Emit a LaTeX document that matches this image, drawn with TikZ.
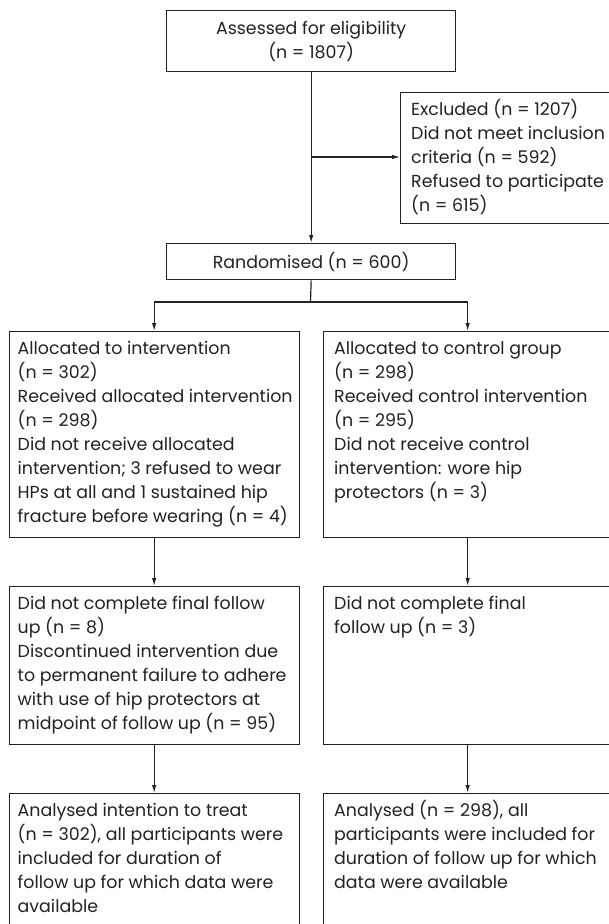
\documentclass[tikz,border=0pt]{standalone}
\usepackage{fontspec}
\setmainfont{Poppins}
\usetikzlibrary{arrows.meta}
\definecolor{lc}{HTML}{222222}
\newcommand\fs{\fontsize{17.4}{24}\selectfont}
\newcommand\fl{\rule{0pt}{17pt}}
\begin{document}
\begin{tikzpicture}[x=1pt,y=-1pt,
  box/.style={draw=lc, line width=1.3pt, inner sep=0, anchor=north west, text=lc},
  txt/.style={inner sep=0, anchor=north west, align=left, font=\fs, text=lc},
  ln/.style={draw=lc, line width=1.2pt},
  arr/.style={ln, -{Latex[length=8pt,width=4.5pt]}}]
\fill[white] (0,0) rectangle (609,924);
\clip (0,0) rectangle (609,924);
\node[box, minimum width=289pt, minimum height=61pt, align=center, font=\fs] (top) at (166,10) {Assessed for eligibility\\(n = 1807)};
\node[box, minimum width=222pt, minimum height=131pt] (excl) at (400,92) {};
\node[box, minimum width=289pt, minimum height=36pt, font=\fs] (rand) at (166,243) {Randomised (n = 600)};
\node[box, minimum width=290pt, minimum height=206pt] (l1) at (8.5,331) {};
\node[box, minimum width=288pt, minimum height=206pt] (r1) at (323,331) {};
\node[box, minimum width=290pt, minimum height=158pt] (l2) at (8.5,586) {};
\node[box, minimum width=288pt, minimum height=158pt] (r2) at (323,586) {};
\node[box, minimum width=290pt, minimum height=160pt] (l3) at (8.5,793) {};
\node[box, minimum width=288pt, minimum height=160pt] (r3) at (323,793) {};

\node[txt] (excltxt) at ([shift={(11,6)}]excl.north west) {\fl Excluded (n = 1207)\\Did not meet inclusion\\criteria (n = 592)\\Refused to participate\\(n = 615)};
\node[txt] (l1txt) at ([shift={(9,6.5)}]l1.north west) {\fl Allocated to intervention\\(n = 302)\\Received allocated intervention\\(n = 298)\\Did not receive allocated\\intervention; 3 refused to wear\\HPs at all and 1 sustained hip\\fracture before wearing (n = 4)};
\node[txt] (r1txt) at ([shift={(11,6.5)}]r1.north west) {\fl Allocated to control group\\(n = 298)\\Received control intervention\\(n = 295)\\Did not receive control\\intervention: wore hip\\protectors (n = 3)};
\node[txt] (l2txt) at ([shift={(9,6.5)}]l2.north west) {\fl Did not complete final follow\\up (n = 8)\\Discontinued intervention due\\to permanent failure to adhere\\with use of hip protectors at\\midpoint of follow up (n = 95)};
\node[txt] (r2txt) at ([shift={(11,6.5)}]r2.north west) {\fl Did not complete final\\follow up (n = 3)};
\node[txt] (l3txt) at ([shift={(9,6.5)}]l3.north west) {\fl Analysed intention to treat\\(n = 302), all participants were\\included for duration of\\follow up for which data were\\available};
\node[txt] (r3txt) at ([shift={(11,6.5)}]r3.north west) {\fl Analysed (n = 298), all\\participants were included for\\duration of follow up for which\\data were available};

\draw[arr] (top.south) -- (rand.north);
\coordinate (br) at (310.5,157);
\draw[arr] (br) -- (br -| excl.west);
\coordinate (split) at (310.5,302);
\draw[ln] (rand.south) -- (split);
\draw[arr] (split) -| (l1.north);
\draw[arr] (split) -| (r1.north);
\draw[arr] (l1.south) -- (l2.north);
\draw[arr] (r1.south) -- (r2.north);
\draw[arr] (l2.south) -- (l3.north);
\draw[arr] (r2.south) -- (r3.north);
\end{tikzpicture}
\end{document}
